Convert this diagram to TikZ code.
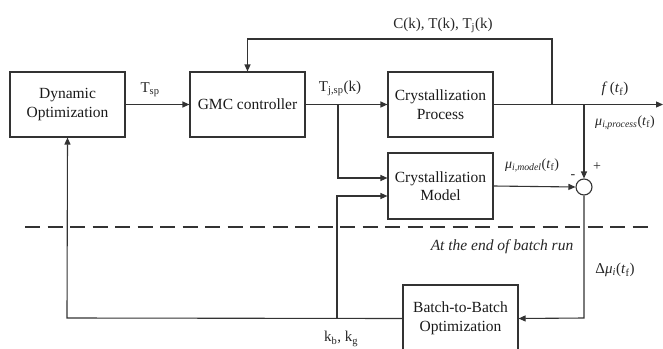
\documentclass[tikz,border=0pt]{standalone}
\usepackage{fontspec}
\setmainfont{Liberation Serif}
\usetikzlibrary{arrows.meta}
\begin{document}
\begin{tikzpicture}[x=1pt,y=-1pt,
  line width=1.1pt, draw=black!80,
  blk/.style={draw=black!80, rectangle, align=center, inner sep=0pt, font=\fontsize{15.5}{18.5}\selectfont, text=black!90},
  lbl/.style={inner sep=0pt, font=\fontsize{15}{18}\selectfont, text=black!85},
  slbl/.style={inner sep=0pt, font=\fontsize{14}{17}\selectfont, text=black!85},
  arr/.style={-{Triangle[length=7pt,width=6pt]}, draw=black!80}]
\useasboundingbox (0,0) rectangle (663,348);
\clip (0,0) rectangle (663,348);
% blocks
\node[blk, minimum width=115pt, minimum height=65pt] (dopt) at (67.5,104.5) {Dynamic\\Optimization};
\node[blk, minimum width=115pt, minimum height=65pt] (gmc) at (247.5,104.5) {GMC controller};
\node[blk, minimum width=105pt, minimum height=65pt] (proc) at (440.5,104.5) {Crystallization\\Process};
\node[blk, minimum width=105pt, minimum height=66pt] (model) at (440.5,186) {Crystallization\\Model};
\node[blk, minimum width=115pt, minimum height=67pt] (b2b) at (460.5,318.5) {Batch-to-Batch\\Optimization};
\node[draw=black!80, circle, minimum size=16pt, inner sep=0pt] (sum) at (584,187) {};
% coordinates
\coordinate (s1) at (338,104.5);
\coordinate (s2) at (552,104.5);
\coordinate (s3) at (584,104.5);
\coordinate (oute) at (663,104.5);
\coordinate (fbtop1) at (552,39);
\coordinate (fbtop2) at (247.5,39);
\coordinate (m1) at (338,178);
\coordinate (bl) at (67,318);
\coordinate (j2) at (337,318);
\coordinate (j2t) at (337,196);
\coordinate (sb) at (584,318);
% connectors
\draw[arr] (dopt) -- (gmc);
\draw[arr] (gmc) -- (proc);
\draw[arr] (s1) -- (m1) -- (m1 -| model.west);
\draw (proc.east) -- (s2);
\draw[arr] (s2) -- (oute);
\draw[arr] (s2) -- (fbtop1) -- (fbtop2) -- (gmc.north);
\draw[arr] (s3) -- (sum.north);
\draw[arr] (model.east) -- (sum.west);
\draw[arr] (sum.south) -- (sb) -- (b2b.east);
\draw[arr] (b2b.west) -- (bl) -- (dopt.south);
\draw[arr] (j2) -- (j2t) -- (j2t -| model.west);
% dashed separator
\draw[black!80, dash pattern=on 15pt off 7.5pt] (25,227) -- (655,227);
% labels
\node[lbl] (tsp) at (150,90) {T\textsubscript{sp}};
\node[lbl] (tjsp) at (340,88) {T\textsubscript{j,sp}(k)};
\node[lbl] (ctt) at (443,25) {C(k), T(k), T\textsubscript{j}(k)};
\node[lbl] (ftf) at (615,89) {\textit{f}\,(\textit{t}\textsubscript{f})};
\node[slbl] (mup) at (625,123) {\textit{μ}\textsubscript{\textit{i,process}}(\textit{t}\textsubscript{f})};
\node[slbl] (mum) at (532,165) {\textit{μ}\textsubscript{\textit{i,model}}(\textit{t}\textsubscript{f})};
\node[slbl] (plus) at (597,167) {+};
\node[slbl] (minus) at (573,177) {-};
\node[lbl, font=\fontsize{15.5}{18}\selectfont\itshape] (endrun) at (502,247) {At the end of batch run};
\node[lbl] (dmu) at (615,270) {Δ\textit{μ}\textsubscript{\textit{i}}(\textit{t}\textsubscript{f})};
\node[lbl] (kbkg) at (341,339) {k\textsubscript{b}, k\textsubscript{g}};
\end{tikzpicture}
\end{document}
